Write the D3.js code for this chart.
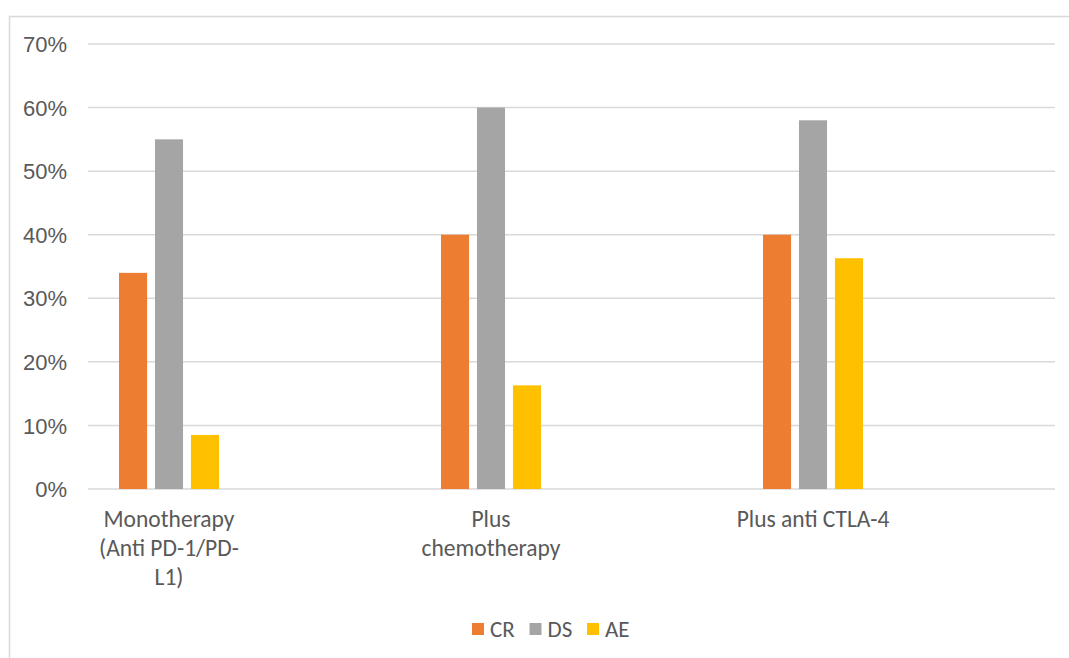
<!DOCTYPE html>
<html>
<head>
<meta charset="utf-8">
<script src="https://cdn.jsdelivr.net/npm/d3@7"></script>
<style>
  body { margin: 0; background: #fff; }
  svg { display: block; font-family: Carlito, Calibri, Lato, sans-serif; }
</style>
</head>
<body>
<svg id="chart"></svg>
<script>
const CATEGORIES = ['Monotherapy (Anti PD-1/PD-L1)', 'Plus chemotherapy', 'Plus anti CTLA-4'];
const CATEGORY_LINES = [
    ['Monotherapy', '(Anti PD-1/PD-', 'L1)'],
    ['Plus', 'chemotherapy'],
    ['Plus anti CTLA-4']
];
const SERIES = ['CR', 'DS', 'AE'];
const CR = [0.34, 0.40, 0.40];
const DS = [0.55, 0.60, 0.58];
const AE = [0.085, 0.163, 0.363];
const Y_TICKS = [0, 0.1, 0.2, 0.3, 0.4, 0.5, 0.6, 0.7];

const COLORS = { CR: '#ED7D31', DS: '#A5A5A5', AE: '#FFC000' };
const TEXT = '#595959';
const GRID = '#d9d9d9';

const WIDTH = 1069;
const HEIGHT = 658;
const PLOT = { left: 88, right: 1055, top: 44, bottom: 489 };

const values = { CR, DS, AE };
const rows = [];
SERIES.forEach(s => CATEGORIES.forEach((c, i) => rows.push({ series: s, category: c, value: values[s][i] })));

const svg = d3.select('#chart')
    .attr('width', WIDTH)
    .attr('height', HEIGHT);

// chart area border
svg.append('rect')
    .attr('x', 9.5)
    .attr('y', 16.5)
    .attr('width', WIDTH + 20)
    .attr('height', HEIGHT + 20)
    .attr('fill', 'none')
    .attr('stroke', GRID)
    .attr('stroke-width', 1.5);

const yScale = d3.scaleLinear().domain([0, 0.7]).range([PLOT.bottom, PLOT.top]);
// category bands are offset left of the gridlines, as in the source
const xScale = d3.scaleBand().domain(CATEGORIES).range([8, 974]);
const xSub = d3.scaleBand().domain(SERIES).range([-50, 50]).paddingInner(0.22);

// gridlines
svg.append('g')
    .selectAll('line')
    .data(Y_TICKS)
    .enter()
    .append('line')
    .attr('x1', PLOT.left)
    .attr('x2', PLOT.right)
    .attr('y1', d => yScale(d))
    .attr('y2', d => yScale(d))
    .attr('stroke', GRID)
    .attr('stroke-width', 1.5);

// y axis labels
const yAxis = svg.append('g')
    .attr('transform', 'translate(67, 0)')
    .call(d3.axisLeft(yScale).tickValues(Y_TICKS).tickFormat(d3.format('.0%')).tickSize(0).tickPadding(0));
yAxis.select('.domain').remove();
yAxis.selectAll('text')
    .attr('fill', TEXT)
    .style('font-size', '22px')
    .attr('dy', '0.35em');

// bars
svg.append('g')
    .selectAll('.bar')
    .data(rows)
    .enter()
    .append('rect')
    .classed('bar', true)
    .attr('x', d => xScale(d.category) + xScale.bandwidth() / 2 + xSub(d.series))
    .attr('width', xSub.bandwidth())
    .attr('y', d => yScale(d.value))
    .attr('height', d => yScale(0) - yScale(d.value))
    .attr('fill', d => COLORS[d.series]);

// category labels
const catLabels = svg.append('g')
    .selectAll('text')
    .data(CATEGORIES)
    .enter()
    .append('text')
    .attr('x', d => xScale(d) + xScale.bandwidth() / 2)
    .attr('y', 527)
    .attr('text-anchor', 'middle')
    .attr('fill', TEXT)
    .style('font-size', '23.5px');

catLabels.selectAll('tspan')
    .data((d, i) => CATEGORY_LINES[i])
    .enter()
    .append('tspan')
    .attr('x', function () { return d3.select(this.parentNode).attr('x'); })
    .attr('dy', (d, i) => i === 0 ? 0 : 29)
    .text(d => d);

// legend
const legendX = d3.scalePoint().domain(SERIES).range([472, 587]);
const legend = svg.append('g')
    .selectAll('g')
    .data(SERIES)
    .enter()
    .append('g')
    .attr('transform', d => `translate(${legendX(d)}, 623)`);

legend.append('rect')
    .attr('width', 12)
    .attr('height', 12)
    .attr('fill', d => COLORS[d]);

legend.append('text')
    .attr('x', 18)
    .attr('y', 6)
    .attr('dy', '0.35em')
    .attr('fill', TEXT)
    .style('font-size', '23px')
    .text(d => d);
</script>
</body>
</html>
